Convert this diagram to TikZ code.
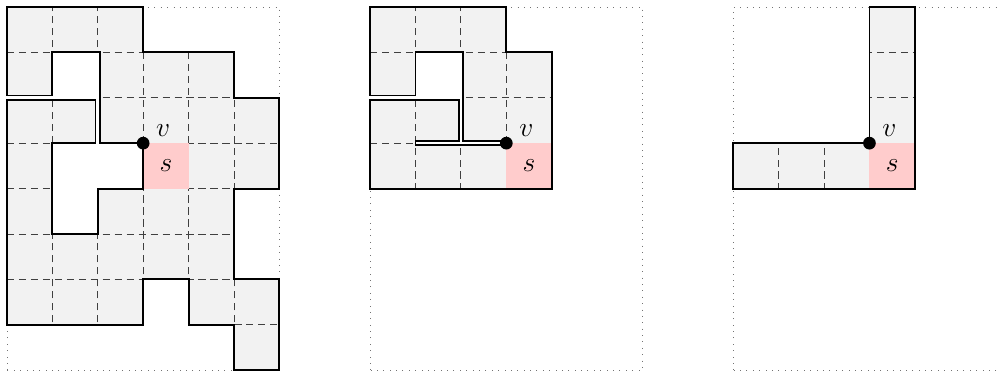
\documentclass[tikz,border=0pt]{standalone}
\usepackage{amsmath}
\usepackage{tikz}
\usetikzlibrary{positioning}
\tikzset{
  cellfill/.style={fill=gray!10},
  outl/.style={draw=black,line width=1.2pt,line join=miter},
  gridl/.style={draw=black!75,line width=0.55pt,dash pattern=on 4.5pt off 3pt},
  pframe/.style={draw=black!55,line width=0.45pt,dash pattern=on 0.45pt off 3.55pt},
  scell/.style={fill=red!20},
  dotv/.style={circle,fill=black,inner sep=0pt,minimum size=2.8mm},
  lab/.style={font=\fontsize{16.5}{19}\selectfont},
}
% outlines of the three regions (slits where the curve touches itself)
\def\regA{(0,8) -- (3,8) -- (3,7) -- (5,7) -- (5,6) -- (6,6) -- (6,4) -- (5,4) -- (5,2) -- (6,2) -- (6,0) -- (5,0) -- (5,1) -- (4,1) -- (4,2) -- (3,2) -- (3,1) -- (0,1) -- (0,5.95) -- (1.95,5.95) -- (1.95,5) -- (1,5) -- (1,3) -- (2,3) -- (2,4) -- (3,4) -- (3,5) -- (2.05,5) -- (2.05,7) -- (1,7) -- (1,6.05) -- (0,6.05) -- cycle}
\def\regB{(0,8) -- (3,8) -- (3,7) -- (4,7) -- (4,4) -- (0,4) -- (0,5.95) -- (1.95,5.95) -- (1.95,5.05) -- (1,5.05) -- (1,4.95) -- (3,4.95) -- (3,5.05) -- (2.05,5.05) -- (2.05,7) -- (1,7) -- (1,6.05) -- (0,6.05) -- cycle}
\def\regC{(3,8) -- (4,8) -- (4,4) -- (0,4) -- (0,5) -- (3,5) -- cycle}
\begin{document}
\begin{tikzpicture}
\useasboundingbox (-0.154,-0.044) rectangle (21.81,8.154);
% Panel 1: full region
\draw[pframe] (0,0) rectangle (6,8);
\fill[cellfill] \regA;
\begin{scope}
  \clip \regA;
  \draw[gridl] (0,0) grid (6,8);
\end{scope}
\fill[scell] (3,4) rectangle (4,5);
\draw[outl] \regA;
\node[dotv] (vA) at (3,5) {};
\node[lab] (vAlab) at (3.44,5.27) {$v$};
\node[lab] (sA) at (3.5,4.5) {$s$};
% Panel 2: reduced region
\begin{scope}[xshift=8cm]
\draw[pframe] (0,0) rectangle (6,8);
\fill[cellfill] \regB;
\begin{scope}
  \clip \regB;
  \draw[gridl] (0,0) grid (6,8);
\end{scope}
\fill[scell] (3,4) rectangle (4,5);
\draw[outl] \regB;
\node[dotv] (vB) at (3,5) {};
\node[lab] (vBlab) at (3.44,5.27) {$v$};
\node[lab] (sB) at (3.5,4.5) {$s$};
\end{scope}
% Panel 3: L-shaped path
\begin{scope}[xshift=16cm]
\draw[pframe] (0,0) rectangle (6,8);
\fill[cellfill] \regC;
\begin{scope}
  \clip \regC;
  \draw[gridl] (0,0) grid (6,8);
\end{scope}
\fill[scell] (3,4) rectangle (4,5);
\draw[outl] \regC;
\node[dotv] (vC) at (3,5) {};
\node[lab] (vClab) at (3.44,5.27) {$v$};
\node[lab] (sC) at (3.5,4.5) {$s$};
\end{scope}
\end{tikzpicture}
\end{document}
